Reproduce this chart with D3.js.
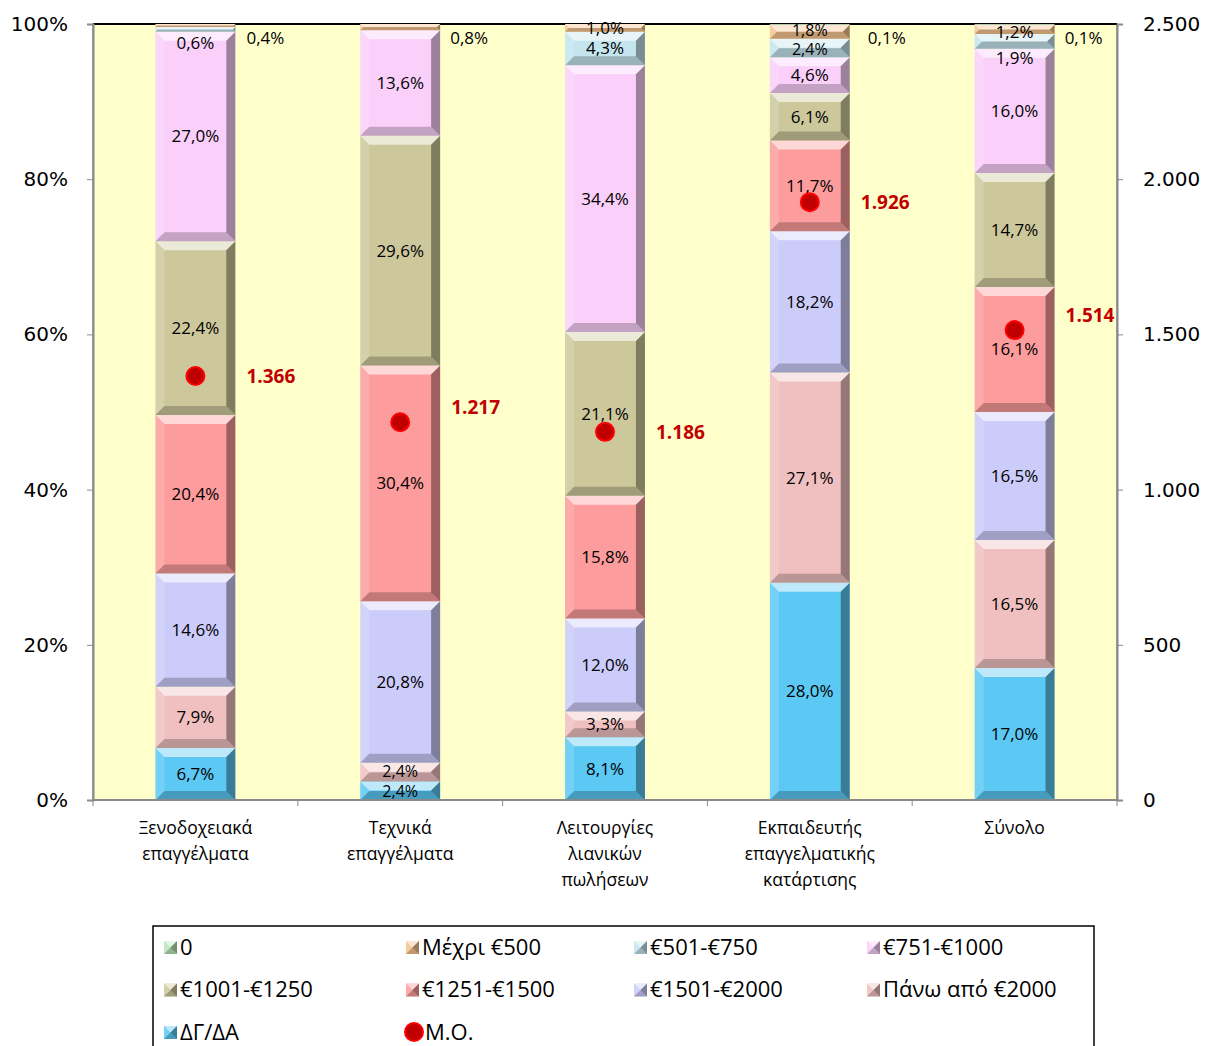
<!DOCTYPE html>
<html>
  <head>
    <meta charset="utf-8">
    <title>Μισθοί ανά ειδικότητα</title>
    <script src="https://d3js.org/d3.v7.min.js"></script>
    <style>
      body { margin: 0; background: #fff; }
      text { fill: #000; }
      .tick text { font-family: "DejaVu Sans", sans-serif; font-size: 20px; }
      .cat { font-family: "Open Sans", sans-serif; font-size: 17.5px; }
      .lbl { font-family: "Open Sans", sans-serif; font-size: 17px; }
      .lbl.tight { font-size: 16px; }
      .mean { font-family: "Open Sans", sans-serif; font-size: 19px; font-weight: bold; fill: #c00000; }
      .leg { font-family: "Open Sans", sans-serif; font-size: 22px; }
    </style>
  </head>
  <body>
    <svg id="chart" width="1207" height="1046"></svg>
    <script>
      // chart data (stack order, bottom to top)
      const categories = [
        ["Ξενοδοχειακά", "επαγγέλματα"],
        ["Τεχνικά", "επαγγέλματα"],
        ["Λειτουργίες", "λιανικών", "πωλήσεων"],
        ["Εκπαιδευτής", "επαγγελματικής", "κατάρτισης"],
        ["Σύνολο"]
      ];
      const seriesNames = ["ΔΓ/ΔΑ", "Πάνω από €2000", "€1501-€2000", "€1251-€1500",
        "€1001-€1250", "€751-€1000", "€501-€750", "Μέχρι €500", "0"];
      const dgda = [6.7, 2.4, 8.1, 28.0, 17.0];
      const over2000 = [7.9, 2.4, 3.3, 27.1, 16.5];
      const e1501 = [14.6, 20.8, 12.0, 18.2, 16.5];
      const e1251 = [20.4, 30.4, 15.8, 11.7, 16.1];
      const e1001 = [22.4, 29.6, 21.1, 6.1, 14.7];
      const e751 = [27.0, 13.6, 34.4, 4.6, 16.0];
      const e501 = [0.6, 0, 4.3, 2.4, 1.9];
      const upTo500 = [0.4, 0.8, 1.0, 1.8, 1.2];
      const zero = [0, 0, 0, 0.1, 0.1];
      const means = [1366, 1217, 1186, 1926, 1514];
      const meanName = "Μ.Ο.";
      const leftTicks = [0, 0.2, 0.4, 0.6, 0.8, 1];
      const rightTicks = [0, 500, 1000, 1500, 2000, 2500];

      const seriesValues = [dgda, over2000, e1501, e1251, e1001, e751, e501, upTo500, zero];
      const colors = ["#5cc8f4", "#f0c0c0", "#ccccfa", "#fc9c9c", "#cdc89c",
        "#fad0fa", "#c4e4ee", "#f6c490", "#b8e6b8"];

      // label nudges for the crowded top of the bars: [series, bar, dx, dy]
      const nudges = [
        [7, 0, 70, 12], [7, 1, 69, 11], [8, 3, 77, 14], [8, 4, 69, 14],
        [6, 0, 0, 14], [6, 4, 0, 17], [7, 4, 0, 3], [7, 3, 0, -1], [6, 3, 0, 1],
        [1, 1, 0, -1], [0, 1, 0, 1]
      ];
      const tight = [[7, 3], [6, 3], [1, 1], [0, 1]];
      const meanNudge = [0, -15, 0, 0, -15];

      const locale = d3.formatLocale({ decimal: ",", thousands: ".", grouping: [3], currency: ["€", ""] });
      const pct = locale.format(".1f");
      const num = locale.format(",d");

      // page elements
      const svg = d3.select("#chart");
      const margin = { top: 24, bottom: 246, left: 93, right: 90 };
      const width = 1207, height = 1046;

      const table = categories.map(function(c, i) {
        const row = { i: i };
        seriesNames.forEach(function(s, k) { row[s] = seriesValues[k][i]; });
        return row;
      });
      const stack = d3.stack().keys(seriesNames)(table);

      const x = d3.scaleBand()
        .domain(d3.range(categories.length))
        .range([margin.left, width - margin.right])
        .paddingInner(0.61)
        .paddingOuter(0.305);
      const y = d3.scaleLinear()
        .domain([0, 100])
        .range([height - margin.bottom, margin.top]);
      const yPct = d3.scaleLinear()
        .domain([0, 1])
        .range(y.range());
      const yRight = d3.scaleLinear()
        .domain([0, 2500])
        .range(y.range());

      // plot area
      svg.append("rect")
        .attr("x", margin.left)
        .attr("y", margin.top)
        .attr("width", width - margin.left - margin.right)
        .attr("height", height - margin.top - margin.bottom)
        .attr("fill", "#ffffcc")
        .attr("stroke", "#8a8a8a")
        .attr("stroke-width", 1.5);
      svg.append("line")
        .attr("x1", margin.left).attr("x2", width - margin.right)
        .attr("y1", margin.top).attr("y2", margin.top)
        .attr("stroke", "#000")
        .attr("stroke-width", 2);

      // bevelled bar segments
      function bevel(g, x0, y0, w, h, fill, b) {
        const x1 = x0 + w, y1 = y0 + h;
        b = Math.min(b, h / 2, w / 2);
        g.append("rect").attr("x", x0).attr("y", y0).attr("width", w).attr("height", h).attr("fill", fill);
        const faces = [
          [[x0, y0], [x1, y0], [x1 - b, y0 + b], [x0 + b, y0 + b], "#fff", 0.6],
          [[x0, y1], [x1, y1], [x1 - b, y1 - b], [x0 + b, y1 - b], "#000", 0.22],
          [[x0, y0], [x0 + b, y0 + b], [x0 + b, y1 - b], [x0, y1], "#fff", 0.15],
          [[x1, y0], [x1 - b, y0 + b], [x1 - b, y1 - b], [x1, y1], "#000", 0.38]
        ];
        faces.forEach(function(f) {
          g.append("path")
            .attr("d", "M" + f.slice(0, 4).join("L") + "Z")
            .attr("fill", f[4])
            .attr("fill-opacity", f[5]);
        });
      }

      const bars = svg.append("g");
      stack.forEach(function(layer, k) {
        layer.forEach(function(d, i) {
          if (d[1] - d[0] <= 0) return;
          bevel(bars, x(i), y(d[1]), x.bandwidth(), y(d[0]) - y(d[1]), colors[k], 9);
        });
      });

      // data labels
      const labels = svg.append("g");
      stack.forEach(function(layer, k) {
        layer.forEach(function(d, i) {
          const v = d[1] - d[0];
          if (v <= 0) return;
          const n = nudges.find(function(a) { return a[0] == k && a[1] == i; }) || [k, i, 0, 0];
          const small = tight.some(function(a) { return a[0] == k && a[1] == i; });
          labels.append("text")
            .attr("class", small ? "lbl tight" : "lbl")
            .attr("x", x(i) + x.bandwidth() / 2 + n[2])
            .attr("y", (y(d[0]) + y(d[1])) / 2 + n[3])
            .attr("dy", "0.35em")
            .attr("text-anchor", "middle")
            .text(pct(v) + "%");
        });
      });

      // mean markers
      const meanGroup = svg.append("g");
      means.forEach(function(m, i) {
        const cx = x(i) + x.bandwidth() / 2;
        meanGroup.append("circle")
          .attr("cx", cx)
          .attr("cy", yRight(m))
          .attr("r", 9)
          .attr("fill", "#c00000")
          .attr("stroke", "#ff0000")
          .attr("stroke-width", 2);
        meanGroup.append("text")
          .attr("class", "mean")
          .attr("x", cx + 51)
          .attr("y", yRight(m) + meanNudge[i])
          .attr("dy", "0.35em")
          .text(num(m));
      });

      // axes
      const yAxis = d3.axisLeft(yPct)
        .tickValues(leftTicks)
        .tickFormat(d3.format(".0%"))
        .tickSizeOuter(0)
        .tickSize(6)
        .tickPadding(19);
      svg.append("g")
        .attr("transform", "translate(" + margin.left + ",0)")
        .call(yAxis)
        .call(function(g) {
          g.select(".domain").attr("stroke", "#8a8a8a").attr("stroke-width", 2);
          g.selectAll(".tick line").attr("stroke", "#8a8a8a");
        });
      const yAxisRight = d3.axisRight(yRight)
        .tickValues(rightTicks)
        .tickFormat(num)
        .tickSizeOuter(0)
        .tickSize(6)
        .tickPadding(20);
      svg.append("g")
        .attr("transform", "translate(" + (width - margin.right) + ",0)")
        .call(yAxisRight)
        .call(function(g) {
          g.select(".domain").attr("stroke", "#8a8a8a").attr("stroke-width", 2);
          g.selectAll(".tick line").attr("stroke", "#8a8a8a");
        });

      // x axis with ticks between the categories
      const xAxisGroup = svg.append("g");
      xAxisGroup.append("line")
        .attr("x1", margin.left).attr("x2", width - margin.right)
        .attr("y1", y(0)).attr("y2", y(0))
        .attr("stroke", "#8a8a8a")
        .attr("stroke-width", 2);
      d3.range(categories.length + 1).forEach(function(i) {
        const bx = margin.left + i * x.step();
        xAxisGroup.append("line")
          .attr("x1", bx).attr("x2", bx)
          .attr("y1", y(0)).attr("y2", y(0) + 6)
          .attr("stroke", "#8a8a8a");
      });
      categories.forEach(function(lines, i) {
        const t = xAxisGroup.append("text")
          .attr("class", "cat")
          .attr("text-anchor", "middle")
          .attr("x", x(i) + x.bandwidth() / 2)
          .attr("y", y(0) + 34);
        lines.forEach(function(l, j) {
          t.append("tspan")
            .attr("x", x(i) + x.bandwidth() / 2)
            .attr("dy", j == 0 ? 0 : 26)
            .text(l);
        });
      });

      // legend
      const legend = svg.append("g");
      legend.append("rect")
        .attr("x", 153).attr("y", 926)
        .attr("width", 941).attr("height", 140)
        .attr("fill", "#fff")
        .attr("stroke", "#000")
        .attr("stroke-width", 1.5);
      const legendCols = [163, 405, 633, 866];
      const legendItems = seriesNames.map(function(s, k) { return { name: s, color: colors[k] }; }).reverse();
      legendItems.push({ name: meanName, color: null });
      legendItems.forEach(function(d, i) {
        const lx = legendCols[i % 4];
        const ly = 947 + Math.floor(i / 4) * 42.5;
        const g = legend.append("g");
        if (d.color) {
          bevel(g, lx + 1, ly - 6, 13, 13, d.color, 6.5);
        } else {
          g.append("circle").attr("cx", lx + 9).attr("cy", ly).attr("r", 9)
            .attr("fill", "#c00000").attr("stroke", "#ff0000").attr("stroke-width", 2);
        }
        g.append("text")
          .attr("class", "leg")
          .attr("x", lx + (d.color ? 17 : 20))
          .attr("y", ly)
          .attr("dy", "0.35em")
          .text(d.name);
      });
    </script>
  </body>
</html>
